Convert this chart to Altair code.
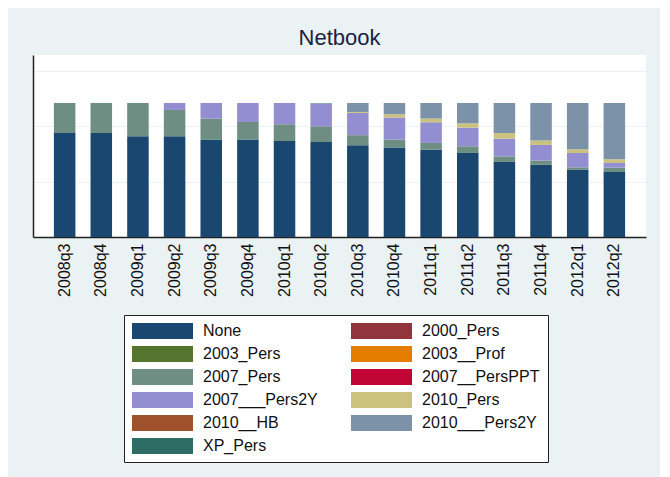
import altair as alt
import pandas as pd

quarters = ["2008q3", "2008q4", "2009q1", "2009q2", "2009q3", "2009q4",
            "2010q1", "2010q2", "2010q3", "2010q4", "2011q1", "2011q2",
            "2011q3", "2011q4", "2012q1", "2012q2"]

categories = ["None", "2000_Pers", "2003_Pers", "2003__Prof", "2007_Pers",
              "2007__PersPPT", "2007___Pers2Y", "2010_Pers", "2010__HB",
              "2010___Pers2Y", "XP_Pers"]
colors = ["#1A476F", "#90353B", "#55752F", "#E37E00", "#6E8E84",
          "#C10534", "#938DD2", "#CAC27E", "#A0522D", "#7B92A8", "#2D6D66"]

none_vals = [77.6, 77.6, 75.2, 75.2, 72.7, 72.7, 71.7, 70.9, 68.5, 66.7, 65.0, 62.7, 56.0, 53.8, 50.3, 48.5]
pers2007 = [22.4, 22.4, 24.8, 19.6, 15.7, 13.1, 12.5, 11.7, 7.5, 6.0, 5.2, 5.0, 4.2, 3.3, 1.7, 3.3]
pers2y2007 = [0, 0, 0, 5.2, 11.6, 14.2, 15.8, 16.8, 16.6, 16.4, 15.4, 13.9, 13.2, 11.6, 10.7, 3.4]
pers2010 = [0, 0, 0, 0, 0, 0, 0, 0, 0.7, 2.5, 2.8, 3.2, 4.2, 3.3, 2.8, 2.8]
pers2y2010 = [0, 0, 0, 0, 0, 0, 0, 0.6, 6.7, 8.4, 11.6, 15.2, 22.4, 28.0, 34.5, 42.0]

y_grid = [41.3, 82.6, 123.9]

series = {
    "None": none_vals,
    "2007_Pers": pers2007,
    "2007___Pers2Y": pers2y2007,
    "2010_Pers": pers2010,
    "2010___Pers2Y": pers2y2010,
}

rows = []
for cat, vals in series.items():
    for q, v in zip(quarters, vals):
        rows.append({"quarter": q, "category": cat, "share": v,
                     "order": categories.index(cat)})
df = pd.DataFrame(rows)

FONT = "Liberation Sans"

chart = alt.Chart(df).mark_bar().encode(
    x=alt.X("quarter:N", sort=quarters,
            scale=alt.Scale(paddingInner=0.413, paddingOuter=0.57),
            axis=alt.Axis(title=None, labelAngle=270, labelFontSize=16,
                          labelFont=FONT, labelColor="#111111", ticks=False,
                          labelPadding=6, domainColor="#222222", domainWidth=1.5,
                          grid=False)),
    y=alt.Y("share:Q", stack="zero",
            scale=alt.Scale(domain=[0, 135.8], nice=False),
            axis=alt.Axis(title=None, values=y_grid, labels=False, ticks=False,
                          grid=True, gridColor="#EAF2F3", gridWidth=1,
                          domainColor="#222222", domainWidth=1.5)),
    color=alt.Color("category:N",
                    scale=alt.Scale(domain=categories, range=colors),
                    legend=alt.Legend(
                        title=None, orient="none", legendX=91, legendY=260,
                        direction="horizontal", columns=2, gridAlign="all",
                        symbolType="M-1,-1H6.625V1H-1Z", symbolSize=256,
                        symbolStrokeWidth=0, symbolOpacity=1,
                        labelFontSize=16, labelFont=FONT, labelColor="#111111",
                        labelOffset=55, rowPadding=7, columnPadding=30,
                        padding=8, strokeColor="#222222", fillColor="white")),
    order=alt.Order("order:Q", sort="ascending"),
).properties(
    width=613,
    height=182,
    title=alt.TitleParams("Netbook", fontSize=22, font=FONT, color="#1c2340",
                          fontWeight="normal", anchor="middle", offset=5),
    autosize=alt.AutoSizeParams(type="none"),
    padding={"left": 25, "top": 47, "right": 14, "bottom": 240},
    background="#EAF2F3",
).configure_view(
    fill="white", stroke=None
)

chart.save("out.html", embed_options={"renderer": "svg", "actions": False})
